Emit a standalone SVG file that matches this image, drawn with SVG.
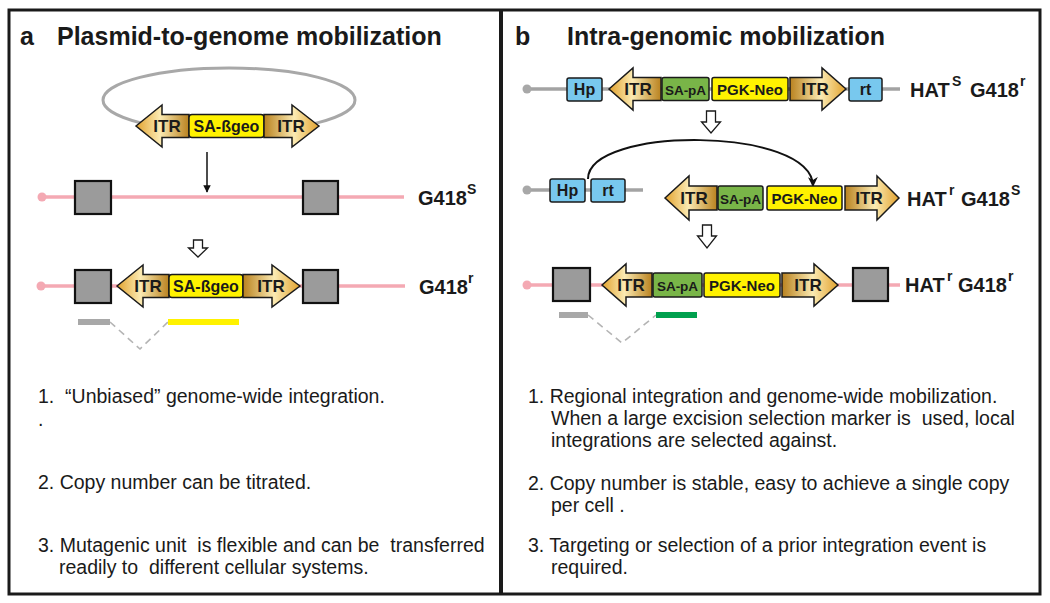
<svg xmlns="http://www.w3.org/2000/svg" width="1050" height="603" viewBox="0 0 1050 603">
<defs>
<linearGradient id="itrL" x1="0" y1="0" x2="1" y2="0">
<stop offset="0" stop-color="#e2a22e"/><stop offset="0.45" stop-color="#fbeab2"/><stop offset="1" stop-color="#b9821f"/>
</linearGradient>
<linearGradient id="itrR" x1="0" y1="0" x2="1" y2="0">
<stop offset="0" stop-color="#b9821f"/><stop offset="0.55" stop-color="#fbeab2"/><stop offset="1" stop-color="#e2a22e"/>
</linearGradient>
<marker id="ah" viewBox="0 0 10 10" refX="9" refY="5" markerWidth="5" markerHeight="5" orient="auto">
<path d="M0,0 L10,5 L0,10 Z" fill="#111"/>
</marker>
<marker id="ah2" viewBox="0 0 10 10" refX="9" refY="5" markerWidth="5" markerHeight="5" orient="auto">
<path d="M0,0 L10,5 L0,10 L3,5 Z" fill="#111"/>
</marker>
</defs>
<style>
text{font-family:"Liberation Sans",Arial,sans-serif;fill:#1a1a1a}
.ttl{font-size:25px;font-weight:bold}
.body{font-size:19.5px;white-space:pre}
.lbl{font-size:20px;font-weight:bold}
.sup{font-size:14px;font-weight:bold}
.itr{fill:url(#itrL);stroke:#1a1a1a;stroke-width:1.5;stroke-linejoin:miter}
.itrr{fill:url(#itrR);stroke:#1a1a1a;stroke-width:1.5;stroke-linejoin:miter}
.it{font-size:17px;font-weight:bold;text-anchor:middle}
.bt{font-size:15px;font-weight:bold;text-anchor:middle}
.yel{fill:#fff200;stroke:#1a1a1a;stroke-width:1.5}
.grn{fill:#79b548;stroke:#1a1a1a;stroke-width:1.5}
.blu{fill:#78c8ee;stroke:#1a1a1a;stroke-width:1.5}
.sq{fill:#9b9b9b;stroke:#111;stroke-width:2.2}
.pink{stroke:#f4a9b3;stroke-width:3.5;fill:none}
.grey{stroke:#a3a3a3;stroke-width:3.5;fill:none}
.hol{fill:#fff;stroke:#1a1a1a;stroke-width:1.3;stroke-linejoin:miter}
.dash{stroke:#b4b4b4;stroke-width:1.6;stroke-dasharray:7 5;fill:none}
</style>
<rect x="0" y="0" width="1050" height="603" fill="#fff"/>
<g id="frame">
<rect x="9" y="10" width="1031" height="584" fill="none" stroke="#1a1a1a" stroke-width="3"/>
<line x1="501" y1="10" x2="501" y2="594" stroke="#1a1a1a" stroke-width="4"/>
</g>
<g id="titles">
<text class="ttl" x="20" y="45">a</text>
<text class="ttl" x="57" y="45">Plasmid-to-genome mobilization</text>
<text class="ttl" x="515" y="45">b</text>
<text class="ttl" x="567" y="45">Intra-genomic mobilization</text>
</g>
<g id="connectors">
<line x1="207" y1="152" x2="207" y2="192" stroke="#111" stroke-width="1.5" marker-end="url(#ah)"/>
<path class="hol" d="M193.5,240 H202.5 V248 H207.5 L198,257 L188.5,248 H193.5 Z"/>
<path class="hol" d="M706.5,111 H715.5 V122 H720.5 L711,133 L701.5,122 H706.5 Z"/>
<path class="hol" d="M702.5,225 H711.5 V236 H716.5 L707,248 L697.5,236 H702.5 Z"/>
<path d="M588,179 C588,126 812,126 813,186" fill="none" stroke="#111" stroke-width="2" marker-end="url(#ah2)"/>
<path class="dash" d="M110,322 L140,349 L168,322"/>
<path class="dash" d="M588,315 L622,343 L656,315"/>
</g>
<g id="plasmid">
<ellipse cx="229" cy="100" rx="126" ry="32" fill="none" stroke="#a8a8a8" stroke-width="3"/>
</g>
<g id="cassette-a1">
<path class="itr" d="M136,126 L162,105 L162,114.5 L189,114.5 L189,137.5 L162,137.5 L162,147 Z"/>
<rect class="yel" x="189" y="114.5" width="75" height="23" rx="3"/>
<path class="itrr" d="M319,126 L292,105 L292,114.5 L264,114.5 L264,137.5 L292,137.5 L292,147 Z"/>
<text class="it" x="167" y="132">ITR</text>
<text class="bt" x="226.5" y="132" style="font-size:16px">SA-ßgeo</text>
<text class="it" x="291" y="132">ITR</text>
</g>
<g id="genome-a1">
<line class="pink" x1="42" y1="197" x2="404" y2="197"/>
<circle cx="42" cy="197" r="4.5" fill="#f4a9b3"/>
<rect class="sq" x="75" y="181" width="36" height="33"/>
<rect class="sq" x="303" y="181" width="35" height="33"/>
<text class="lbl" x="418" y="205">G418</text>
<text class="sup" x="467" y="194">S</text>
</g>
<g id="genome-a2">
<line class="pink" x1="41" y1="286" x2="405" y2="286"/>
<circle cx="41" cy="286" r="4.5" fill="#f4a9b3"/>
<rect class="sq" x="75" y="270" width="36" height="33"/>
<rect class="sq" x="303" y="270" width="35" height="33"/>
<path class="itr" d="M117,286 L143,265 L143,274.5 L169,274.5 L169,297.5 L143,297.5 L143,307 Z"/>
<rect class="yel" x="169" y="274.5" width="74" height="23" rx="3"/>
<path class="itrr" d="M300,286 L272,265 L272,274.5 L243,274.5 L243,297.5 L272,297.5 L272,307 Z"/>
<text class="it" x="148" y="292">ITR</text>
<text class="bt" x="206" y="292" style="font-size:16px">SA-ßgeo</text>
<text class="it" x="271" y="292">ITR</text>
<text class="lbl" x="419" y="294">G418</text>
<text class="sup" x="468" y="283">r</text>
<rect x="78" y="319" width="32" height="6" fill="#a8a8a8"/>
<rect x="168" y="319" width="71" height="6" fill="#fff200"/>
</g>
<g id="text-a">
<text class="body" x="38" y="403">1.  “Unbiased” genome-wide integration.</text>
<text class="body" x="38" y="426">.</text>
<text class="body" x="38" y="489">2. Copy number can be titrated.</text>
<text class="body" x="38" y="552">3. Mutagenic unit  is flexible and can be  transferred</text>
<text class="body" x="59" y="574">readily to  different cellular systems.</text>
</g>
<g id="row-b1">
<line class="grey" x1="527" y1="89" x2="900" y2="89"/>
<circle cx="527" cy="89" r="4.5" fill="#a8a8a8"/>
<rect class="blu" x="567" y="78" width="35" height="23" rx="2"/>
<path class="itr" d="M609,89 L633,68 L633,77.5 L661,77.5 L661,100.5 L633,100.5 L633,110 Z"/>
<rect class="grn" x="662" y="77.5" width="47" height="23" rx="2"/>
<rect class="yel" x="712" y="77.5" width="76" height="23" rx="2"/>
<path class="itrr" d="M846,89 L822,68 L822,77.5 L790,77.5 L790,100.5 L822,100.5 L822,110 Z"/>
<rect class="blu" x="849" y="78" width="33" height="23" rx="2"/>
<text class="bt" x="584.5" y="95" style="font-size:16px">Hp</text>
<text class="it" x="638" y="95">ITR</text>
<text class="bt" x="685.5" y="94.5" style="font-size:13.5px">SA-pA</text>
<text class="bt" x="750" y="94.5">PGK-Neo</text>
<text class="it" x="815" y="95">ITR</text>
<text class="bt" x="865.5" y="95" style="font-size:16px">rt</text>
<text class="lbl" x="910" y="97">HAT</text>
<text class="sup" x="952" y="86">S</text>
<text class="lbl" x="970" y="97">G418</text>
<text class="sup" x="1020" y="86">r</text>
</g>
<g id="row-b2">
<line class="grey" x1="527" y1="190" x2="643" y2="190"/>
<circle cx="527" cy="190" r="4.5" fill="#a8a8a8"/>
<rect class="blu" x="550" y="179" width="35" height="23" rx="2"/>
<rect class="blu" x="591" y="179" width="34" height="23" rx="2"/>
<text class="bt" x="567.5" y="196" style="font-size:16px">Hp</text>
<text class="bt" x="608" y="196" style="font-size:16px">rt</text>
<path class="itr" d="M665,198 L689,176 L689,186 L717,186 L717,210 L689,210 L689,220 Z"/>
<rect class="grn" x="718" y="186" width="45" height="24" rx="2"/>
<rect class="yel" x="767" y="186" width="75" height="24" rx="2"/>
<path class="itrr" d="M899,198 L877,176 L877,186 L845,186 L845,210 L877,210 L877,220 Z"/>
<text class="it" x="694" y="204">ITR</text>
<text class="bt" x="740.5" y="203.5" style="font-size:13.5px">SA-pA</text>
<text class="bt" x="804.5" y="203.5">PGK-Neo</text>
<text class="it" x="869" y="204">ITR</text>
<text class="lbl" x="907" y="206">HAT</text>
<text class="sup" x="949" y="195">r</text>
<text class="lbl" x="961" y="206">G418</text>
<text class="sup" x="1011" y="195">S</text>
</g>
<g id="row-b3">
<line class="pink" x1="527" y1="285" x2="900" y2="285"/>
<circle cx="527" cy="285" r="4.5" fill="#f4a9b3"/>
<rect class="sq" x="553" y="268" width="37" height="33"/>
<rect class="sq" x="853" y="268" width="35" height="33"/>
<path class="itr" d="M602,285 L626,264 L626,273 L652,273 L652,297 L626,297 L626,306 Z"/>
<rect class="grn" x="653" y="273" width="49" height="24" rx="2"/>
<rect class="yel" x="704" y="273" width="76" height="24" rx="2"/>
<path class="itrr" d="M838,285 L814,264 L814,273 L782,273 L782,297 L814,297 L814,306 Z"/>
<text class="it" x="631" y="291">ITR</text>
<text class="bt" x="677.5" y="290.5" style="font-size:13.5px">SA-pA</text>
<text class="bt" x="742" y="290.5">PGK-Neo</text>
<text class="it" x="808" y="291">ITR</text>
<text class="lbl" x="905" y="292">HAT</text>
<text class="sup" x="947" y="281">r</text>
<text class="lbl" x="958" y="292">G418</text>
<text class="sup" x="1008" y="281">r</text>
<rect x="559" y="312" width="29" height="6" fill="#a8a8a8"/>
<rect x="656" y="312" width="41" height="6" fill="#00a04e"/>
</g>
<g id="text-b">
<text class="body" x="528" y="403">1. Regional integration and genome-wide mobilization.</text>
<text class="body" x="551" y="425">When a large excision selection marker is  used, local</text>
<text class="body" x="551" y="447">integrations are selected against.</text>
<text class="body" x="528" y="490">2. Copy number is stable, easy to achieve a single copy</text>
<text class="body" x="551" y="512">per cell .</text>
<text class="body" x="528" y="552">3. Targeting or selection of a prior integration event is</text>
<text class="body" x="551" y="574">required.</text>
</g>
</svg>
